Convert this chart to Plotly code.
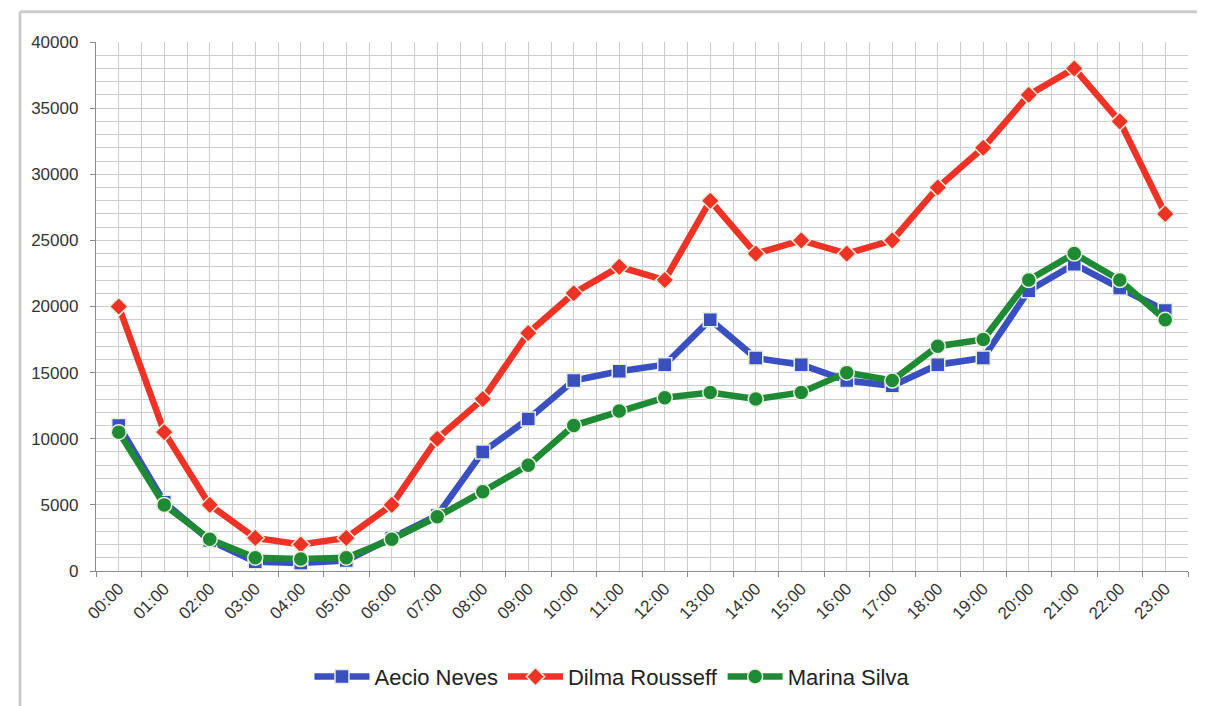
import plotly.graph_objects as go

hours = ["00:00", "01:00", "02:00", "03:00", "04:00", "05:00", "06:00", "07:00",
         "08:00", "09:00", "10:00", "11:00", "12:00", "13:00", "14:00", "15:00",
         "16:00", "17:00", "18:00", "19:00", "20:00", "21:00", "22:00", "23:00"]

aecio = [11000, 5200, 2300, 700, 600, 800, 2500, 4200, 9000, 11500, 14400, 15100,
         15600, 19000, 16100, 15600, 14400, 14000, 15600, 16100, 21200, 23200, 21400, 19700]
dilma = [20000, 10500, 5000, 2500, 2000, 2500, 5000, 10000, 13000, 18000, 21000, 23000,
         22000, 28000, 24000, 25000, 24000, 25000, 29000, 32000, 36000, 38000, 34000, 27000]
marina = [10500, 5000, 2400, 1000, 900, 1000, 2400, 4100, 6000, 8000, 11000, 12100,
          13100, 13500, 13000, 13500, 15000, 14400, 17000, 17500, 22000, 24000, 22000, 19000]

y_ticks = [0, 5000, 10000, 15000, 20000, 25000, 30000, 35000, 40000]

x_idx = list(range(len(hours)))

fig = go.Figure()

series = [
    ("Aecio Neves", aecio, "#3a4fc0", "square", 14),
    ("Dilma Rousseff", dilma, "#ee3326", "diamond", 14),
    ("Marina Silva", marina, "#1f8a34", "circle", 15),
]
for name, vals, color, sym, size in series:
    fig.add_trace(go.Scatter(
        x=x_idx, y=vals, name=name, mode="lines+markers",
        line=dict(color=color, width=6.5),
        marker=dict(symbol=sym, size=size, color=color,
                    line=dict(color="#e6eedc", width=1.5)),
    ))

fig.update_layout(
    width=1197, height=698,
    margin=dict(l=88, r=17, t=34, b=135, autoexpand=False),
    paper_bgcolor="white", plot_bgcolor="white",
    font=dict(family="Liberation Sans, Arial, sans-serif", color="#333333", size=17),
    showlegend=True,
    legend=dict(orientation="h", x=0.4725, xanchor="center", y=-0.2, yanchor="middle",
                font=dict(size=22, color="#222222"), itemwidth=55,
                traceorder="normal"),
    shapes=[
        dict(type="line", xref="paper", yref="paper", x0=-0.0696, x1=1.02, y0=1.057, y1=1.057,
             line=dict(color="#cccccc", width=3)),
        dict(type="line", xref="paper", yref="paper", x0=-0.0696, x1=-0.0696, y0=1.057, y1=-0.26,
             line=dict(color="#cccccc", width=3)),
    ],
)

fig.update_xaxes(
    range=[-0.5, 23.5], automargin=False,
    tickmode="array", tickvals=x_idx, ticktext=hours,
    tickangle=-45, tickfont=dict(size=17, color="#333333"),
    showgrid=True, gridcolor="#cdcdcd", gridwidth=1.3,
    ticks="", showline=True, linecolor="#8a8a8a", linewidth=1.3,
    minor=dict(tickmode="linear", tick0=-0.5, dtick=1, showgrid=True,
               gridcolor="#cdcdcd", gridwidth=1.3, ticks="outside", ticklen=5,
               tickcolor="#8a8a8a"),
    zeroline=False,
)
fig.update_yaxes(
    range=[0, 40000], automargin=False,
    tickmode="array", tickvals=y_ticks, ticktext=[str(v) for v in y_ticks],
    tickfont=dict(size=17, color="#333333"),
    showgrid=True, gridcolor="#cdcdcd", gridwidth=1.3,
    ticks="outside", ticklen=5, tickcolor="#8a8a8a", ticklabelstandoff=8,
    showline=True, linecolor="#8a8a8a", linewidth=1.3,
    minor=dict(tickmode="linear", tick0=0, dtick=1000, showgrid=True,
               gridcolor="#cdcdcd", gridwidth=1.3),
    zeroline=False,
)

fig.write_html("out.html")
